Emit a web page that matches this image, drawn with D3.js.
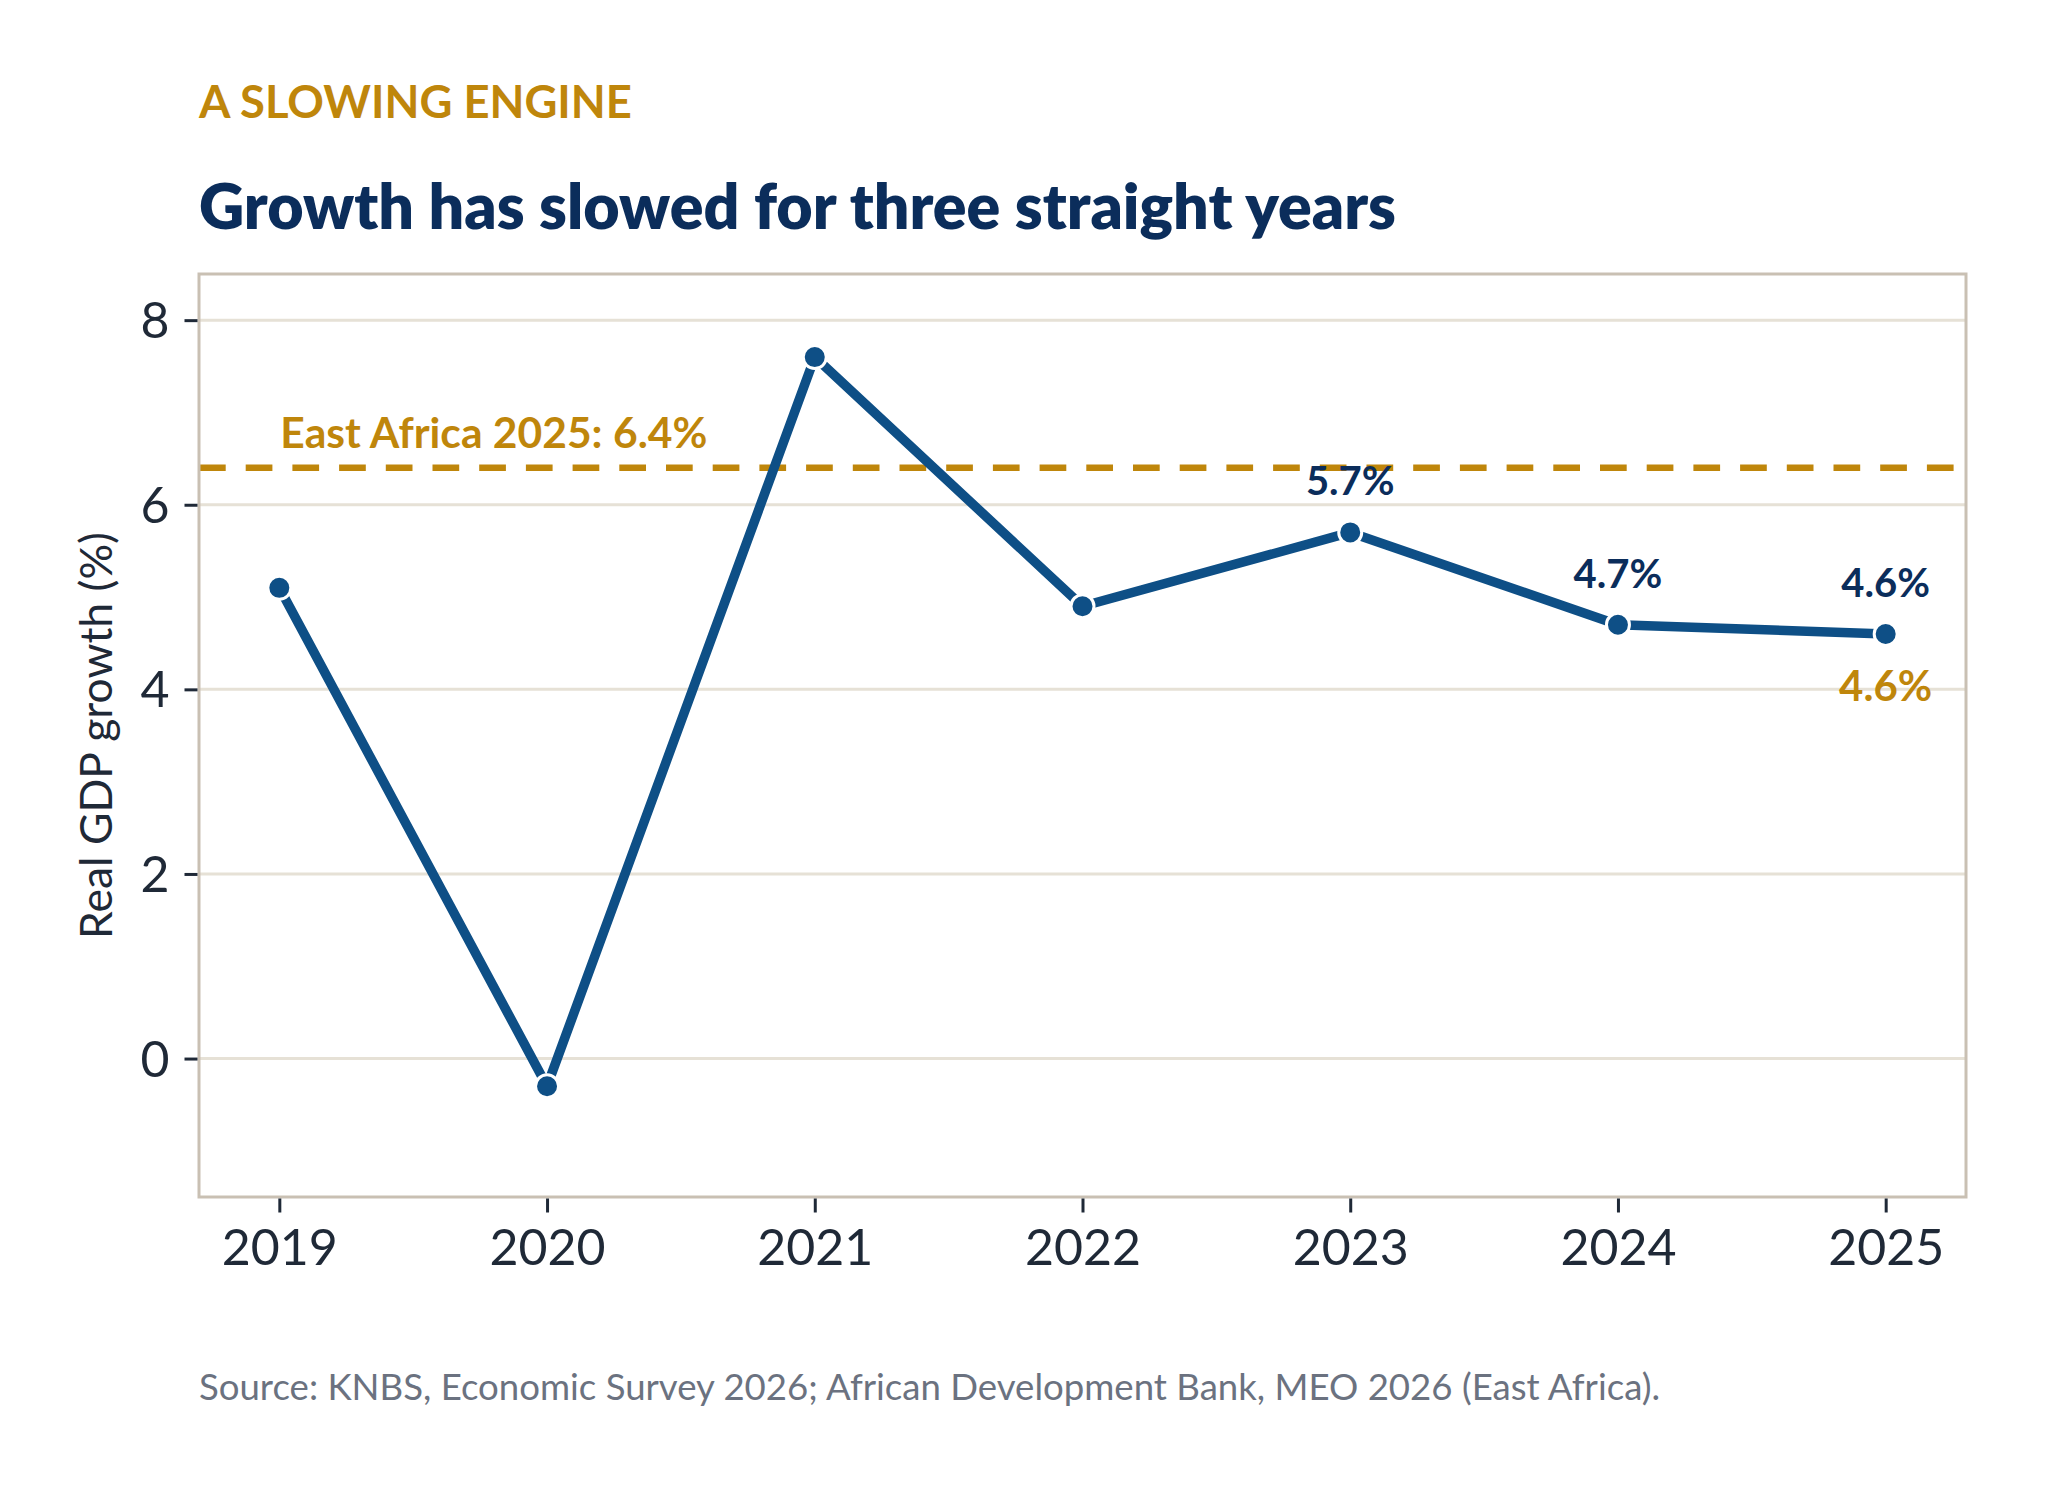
<!DOCTYPE html>
<html>
<head>
<meta charset="utf-8">
<script src="https://cdn.jsdelivr.net/npm/d3@7"></script>
<style>
  html, body { margin: 0; padding: 0; background: #ffffff; }
  svg { display: block; }
  text { font-family: Lato, "Open Sans", sans-serif; }
</style>
</head>
<body>
<svg id="chart" width="2049" height="1493"></svg>
<script>
// ---- data ----
const years = [2019, 2020, 2021, 2022, 2023, 2024, 2025];
const growth = [5.1, -0.3, 7.6, 4.9, 5.7, 4.7, 4.6];
const benchmarkValue = 6.4;
const benchmarkLabel = "East Africa 2025: 6.4%";
const labeledYears = [2023, 2024, 2025];
const goldLabelYear = 2025;
const goldLabelValue = 4.6;
const yTicks = [0, 2, 4, 6, 8];
const xTicks = years;
const kicker = "A SLOWING ENGINE";
const title = "Growth has slowed for three straight years";
const yAxisTitle = "Real GDP growth (%)";
const source = "Source: KNBS, Economic Survey 2026; African Development Bank, MEO 2026 (East Africa).";

// ---- styles ----
const C = {
  gold: "#BF860B",
  navy: "#0B2D5B",
  line: "#0E4F86",
  grid: "#E6E1D6",
  frame: "#C9C0B3",
  tick: "#1F2937",
  source: "#6B7280"
};

const svg = d3.select("#chart");
const plot = { left: 199, right: 1966, top: 274, bottom: 1197 };

const x = d3.scaleLinear().domain([2018.7, 2025.3]).range([plot.left, plot.right]);
const y = d3.scaleLinear().domain([-1.5, 8.5]).range([plot.bottom, plot.top]);

function fit(sel, target) {
  const w = sel.node().getComputedTextLength();
  const fs = parseFloat(sel.attr("font-size"));
  sel.attr("font-size", (fs * target / w).toFixed(2));
  return sel;
}

// kicker and title
fit(svg.append("text").attr("x", 199).attr("y", 117.5)
  .attr("font-size", 44).attr("font-weight", 700).attr("fill", C.gold)
  .text(kicker), 433);
fit(svg.append("text").attr("x", 199).attr("y", 229)
  .attr("font-size", 60).attr("font-weight", 800).attr("fill", C.navy)
  .text(title), 1197);

// gridlines
svg.append("g").selectAll("line").data(yTicks).join("line")
  .attr("x1", plot.left).attr("x2", plot.right)
  .attr("y1", d => y(d)).attr("y2", d => y(d))
  .attr("stroke", C.grid).attr("stroke-width", 3);

// clip
svg.append("clipPath").attr("id", "clip").append("rect")
  .attr("x", plot.left).attr("y", plot.top)
  .attr("width", plot.right - plot.left).attr("height", plot.bottom - plot.top);

// benchmark dashed line
svg.append("line").attr("clip-path", "url(#clip)")
  .attr("x1", plot.left).attr("x2", plot.right)
  .attr("y1", y(benchmarkValue)).attr("y2", y(benchmarkValue))
  .attr("stroke", C.gold).attr("stroke-width", 6.5)
  .attr("stroke-dasharray", "26.7 20");

fit(svg.append("text").attr("x", x(years[0]) + 1).attr("y", 447.5)
  .attr("font-size", 38).attr("font-weight", 700).attr("fill", C.gold)
  .text(benchmarkLabel), 427);

// frame
svg.append("rect")
  .attr("x", plot.left).attr("y", plot.top)
  .attr("width", plot.right - plot.left).attr("height", plot.bottom - plot.top)
  .attr("fill", "none").attr("stroke", C.frame).attr("stroke-width", 3);

// y axis
const yAxis = svg.append("g").attr("transform", `translate(${plot.left - 1.5},0)`)
  .call(d3.axisLeft(y).tickValues(yTicks).tickSize(13).tickPadding(15).tickFormat(d3.format("d")));
yAxis.select(".domain").remove();
yAxis.selectAll(".tick line").attr("stroke", C.tick).attr("stroke-width", 3);
yAxis.selectAll(".tick text").attr("fill", C.tick).attr("font-size", 50)
  .attr("font-family", "Lato, sans-serif").attr("dy", "0.35em");

// x axis
const xAxis = svg.append("g").attr("transform", `translate(0,${plot.bottom + 1.5})`)
  .call(d3.axisBottom(x).tickValues(xTicks).tickSize(14).tickPadding(0).tickFormat(d3.format("d")));
xAxis.select(".domain").remove();
xAxis.selectAll(".tick line").attr("stroke", C.tick).attr("stroke-width", 3);
xAxis.selectAll(".tick text").attr("fill", C.tick).attr("font-size", 50)
  .attr("font-family", "Lato, sans-serif").attr("y", 1265 - plot.bottom - 1.5).attr("dy", 0);

// y axis title
fit(svg.append("text")
  .attr("transform", `translate(112,${(plot.top + plot.bottom) / 2}) rotate(-90)`)
  .attr("text-anchor", "middle").attr("font-size", 38).attr("fill", C.tick)
  .text(yAxisTitle), 407);

// line
const pts = years.map((yr, i) => ({ year: yr, value: growth[i] }));
svg.append("path").datum(pts)
  .attr("fill", "none").attr("stroke", C.line).attr("stroke-width", 9.5)
  .attr("stroke-linejoin", "round").attr("stroke-linecap", "butt")
  .attr("d", d3.line().x(d => x(d.year)).y(d => y(d.value)));

svg.append("g").selectAll("circle").data(pts).join("circle")
  .attr("cx", d => x(d.year)).attr("cy", d => y(d.value)).attr("r", 11.5)
  .attr("fill", C.line).attr("stroke", "#ffffff").attr("stroke-width", 3);

// value labels
svg.append("g").selectAll("text").data(pts.filter(d => labeledYears.includes(d.year))).join("text")
  .attr("x", d => x(d.year)).attr("y", d => y(d.value) - 37)
  .attr("text-anchor", "middle").attr("font-size", 40).attr("font-weight", 700)
  .attr("fill", C.navy).text(d => d.value.toFixed(1) + "%");

svg.append("text").attr("x", x(goldLabelYear)).attr("y", y(goldLabelValue) + 67)
  .attr("text-anchor", "middle").attr("font-size", 42).attr("font-weight", 700)
  .attr("fill", C.gold).text(goldLabelValue.toFixed(1) + "%");

// source
fit(svg.append("text").attr("x", 199).attr("y", 1400)
  .attr("font-size", 32).attr("fill", C.source)
  .text(source), 1461);
</script>
</body>
</html>
